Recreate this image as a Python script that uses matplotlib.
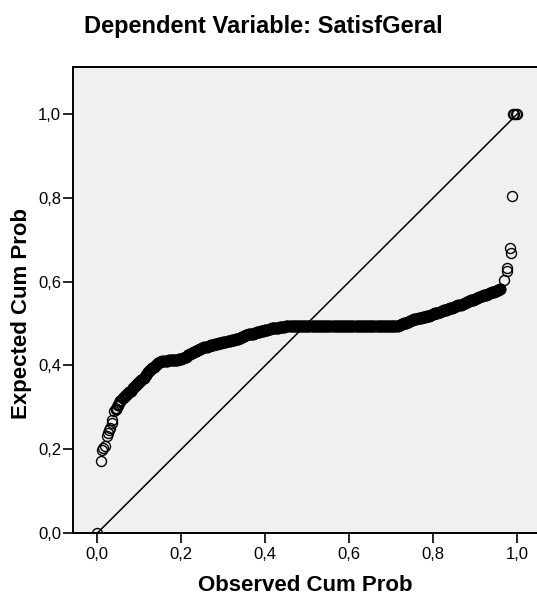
import matplotlib
matplotlib.use("Agg")
import matplotlib.pyplot as plt

# P-P plot of regression standardized residual (SPSS output)
tick_values = [0.0, 0.2, 0.4, 0.6, 0.8, 1.0]
tick_labels = ["0,0", "0,2", "0,4", "0,6", "0,8", "1,0"]

title_text = "Dependent Variable: SatisfGeral"
x_label = "Observed Cum Prob"
y_label = "Expected Cum Prob"

# observed / expected cumulative probabilities
obs_prob = [
    0.000, 0.008, 0.012, 0.014, 0.018, 0.024, 0.026, 0.028, 0.030, 0.034,
    0.036, 0.040, 0.045, 0.050, 0.055, 0.060, 0.065, 0.070, 0.075, 0.080,
    0.085, 0.090, 0.095, 0.100, 0.105, 0.110, 0.115, 0.120, 0.125, 0.130,
    0.135, 0.140, 0.145, 0.150, 0.155, 0.160, 0.165, 0.170, 0.175, 0.180,
    0.185, 0.190, 0.195, 0.200, 0.205, 0.210, 0.215, 0.220, 0.225, 0.230,
    0.235, 0.240, 0.245, 0.250, 0.255, 0.260, 0.265, 0.270, 0.275, 0.280,
    0.285, 0.290, 0.295, 0.300, 0.305, 0.310, 0.315, 0.320, 0.325, 0.330,
    0.335, 0.340, 0.345, 0.350, 0.355, 0.360, 0.365, 0.370, 0.375, 0.380,
    0.385, 0.390, 0.395, 0.400, 0.405, 0.410, 0.415, 0.420, 0.425, 0.430,
    0.435, 0.440, 0.445, 0.450, 0.455, 0.460, 0.465, 0.470, 0.475, 0.480,
    0.485, 0.490, 0.495, 0.500, 0.505, 0.510, 0.515, 0.520, 0.525, 0.530,
    0.535, 0.540, 0.545, 0.550, 0.555, 0.560, 0.565, 0.570, 0.575, 0.580,
    0.585, 0.590, 0.595, 0.600, 0.605, 0.610, 0.615, 0.620, 0.625, 0.630,
    0.635, 0.640, 0.645, 0.650, 0.655, 0.660, 0.665, 0.670, 0.675, 0.680,
    0.685, 0.690, 0.695, 0.700, 0.705, 0.710, 0.715, 0.720, 0.725, 0.730,
    0.735, 0.740, 0.745, 0.750, 0.755, 0.760, 0.765, 0.770, 0.775, 0.780,
    0.785, 0.790, 0.795, 0.800, 0.805, 0.810, 0.815, 0.820, 0.825, 0.830,
    0.835, 0.840, 0.845, 0.850, 0.855, 0.860, 0.865, 0.870, 0.875, 0.880,
    0.885, 0.890, 0.895, 0.900, 0.905, 0.910, 0.915, 0.920, 0.925, 0.930,
    0.935, 0.940, 0.945, 0.950, 0.955, 0.960, 0.969, 0.975, 0.976, 0.983,
    0.984, 0.987, 0.990, 0.993, 0.996, 1.000,
]
exp_prob = [
    0.000, 0.171, 0.198, 0.203, 0.208, 0.232, 0.238, 0.245, 0.250, 0.262,
    0.270, 0.290, 0.297, 0.305, 0.314, 0.323, 0.328, 0.332, 0.336, 0.340,
    0.345, 0.350, 0.355, 0.360, 0.365, 0.371, 0.377, 0.383, 0.389, 0.393,
    0.397, 0.401, 0.405, 0.409, 0.410, 0.410, 0.411, 0.412, 0.412, 0.413,
    0.414, 0.414, 0.415, 0.416, 0.417, 0.420, 0.424, 0.427, 0.430, 0.433,
    0.435, 0.437, 0.439, 0.441, 0.443, 0.445, 0.446, 0.448, 0.449, 0.450,
    0.451, 0.453, 0.454, 0.455, 0.456, 0.457, 0.459, 0.460, 0.461, 0.462,
    0.464, 0.465, 0.467, 0.470, 0.472, 0.474, 0.475, 0.476, 0.478, 0.479,
    0.480, 0.482, 0.483, 0.484, 0.485, 0.487, 0.488, 0.489, 0.490, 0.490,
    0.491, 0.491, 0.492, 0.493, 0.493, 0.493, 0.493, 0.493, 0.493, 0.493,
    0.493, 0.493, 0.493, 0.493, 0.493, 0.493, 0.493, 0.493, 0.493, 0.493,
    0.493, 0.493, 0.493, 0.493, 0.493, 0.493, 0.493, 0.493, 0.493, 0.493,
    0.493, 0.493, 0.493, 0.493, 0.493, 0.493, 0.493, 0.493, 0.493, 0.493,
    0.493, 0.493, 0.493, 0.493, 0.493, 0.493, 0.493, 0.493, 0.493, 0.493,
    0.493, 0.493, 0.493, 0.493, 0.493, 0.493, 0.493, 0.496, 0.498, 0.500,
    0.502, 0.504, 0.506, 0.508, 0.510, 0.511, 0.512, 0.513, 0.515, 0.516,
    0.518, 0.519, 0.521, 0.522, 0.524, 0.526, 0.528, 0.529, 0.531, 0.533,
    0.535, 0.537, 0.538, 0.540, 0.542, 0.544, 0.545, 0.547, 0.549, 0.551,
    0.553, 0.555, 0.557, 0.559, 0.561, 0.563, 0.565, 0.567, 0.568, 0.570,
    0.572, 0.574, 0.576, 0.578, 0.580, 0.582, 0.604, 0.626, 0.633, 0.680,
    0.669, 0.803, 1.000, 1.000, 1.000, 1.000,
]

plt.rcParams["font.family"] = ["Liberation Sans", "DejaVu Sans"]

fig = plt.figure(figsize=(5.37, 5.95), dpi=100)
# axes runs off the right edge like the original export
ax = fig.add_axes([73 / 537, 62 / 595, 464 / 537, 466 / 595])
ax.set_facecolor("#f0f0f0")

ax.plot([0, 1], [0, 1], color="black", linewidth=1.1, zorder=2)

# the middle run of points sits so tight that SPSS draws it as a solid band
dense = slice(12, -10)
ax.plot(obs_prob, exp_prob, linestyle="none", marker="o", markersize=7.2,
        markerfacecolor="none", markeredgecolor="black", markeredgewidth=1.0,
        zorder=3)
ax.plot(obs_prob[dense], exp_prob[dense], linestyle="none", marker="o",
        markersize=6.8, markerfacecolor="none", markeredgecolor="black",
        markeredgewidth=1.9, zorder=3)

ax.set_xlim(-0.058, 1.047)
ax.set_ylim(0.0, 1.112)

ax.set_xticks(tick_values)
ax.set_xticklabels(tick_labels)
ax.set_yticks(tick_values)
ax.set_yticklabels(tick_labels)
ax.tick_params(direction="out", length=7, width=1.2, labelsize=12,
               colors="black")
ax.tick_params(axis="x", pad=3.3)
ax.tick_params(axis="y", pad=1.5)

for side in ["left", "top", "bottom"]:
    ax.spines[side].set_linewidth(1.4)
    ax.spines[side].set_color("black")
ax.spines["right"].set_visible(False)

ax.set_xlabel(x_label, fontsize=16, fontweight="bold", va="baseline")
ax.xaxis.set_label_coords(0.5, (533 - 591) / 466)
ax.set_ylabel(y_label, fontsize=16, fontweight="bold", va="center",
              ha="center")
ax.yaxis.set_label_coords((22 - 73) / 464, (533 - 313.5) / 466)

fig.text(263 / 537, (595 - 32.7) / 595, title_text, ha="center",
         va="baseline", fontsize=17, fontweight="bold")

fig.savefig("out.png", dpi=100, facecolor="white")
